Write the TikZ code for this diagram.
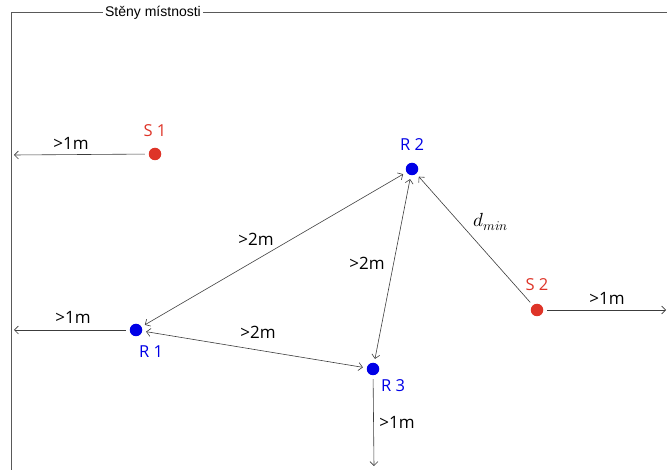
\documentclass[tikz,border=0pt]{standalone}
\usepackage{fontspec}
\usepackage{unicode-math}
\setmathfont{Latin Modern Math}
\setmainfont{Open Sans}
\newfontfamily\wallfont{Liberation Sans}
\usetikzlibrary{arrows.meta}
\definecolor{sred}{RGB}{222,52,40}
\definecolor{rblue}{RGB}{0,0,230}
\definecolor{lgray}{RGB}{60,60,60}
\begin{document}
\begin{tikzpicture}[x=1pt,y=-1pt,
  dotS/.style={circle,fill=sred,inner sep=0pt,minimum size=12.5pt,outer sep=4pt},
  dotR/.style={circle,fill=rblue,inner sep=0pt,minimum size=12.5pt,outer sep=4pt},
  slab/.style={text=sred,font=\fontsize{16.5}{16.5}\selectfont},
  rlab/.style={text=rblue,font=\fontsize{16.5}{16.5}\selectfont},
  dlab/.style={text=black,font=\fontsize{17}{17}\selectfont},
  mlab/.style={text=black,font=\fontsize{19}{19}\selectfont},
  conn/.style={draw=lgray,line width=0.6pt},
  onetip/.style={conn,-{Straight Barb[length=4pt,width=8pt]}},
  twotip/.style={conn,{Straight Barb[length=4pt,width=8pt]}-{Straight Barb[length=4pt,width=8pt]}},
  wall/.style={draw=black!65,line width=0.9pt}]
\useasboundingbox (0,0) rectangle (667,470);
% walls
\node[font=\wallfont\fontsize{14}{14}\selectfont,inner sep=2pt] (wl) at (153,13) {Stěny místnosti};
\coordinate (wtl) at (11,12);
\coordinate (wbl) at (11,470);
\coordinate (wtr) at (667,12);
\draw[wall] (wbl) -- (wtl) -- (wtl -| wl.west);
\draw[wall] (wl.east |- wtr) -- (wtr);
% points
\node[dotS] (s1) at (155,154) {};
\node[slab] (s1l) at (155,131) {S 1};
\node[dotS] (s2) at (537,310) {};
\node[slab] (s2l) at (537,285) {S 2};
\node[dotR] (r1) at (136,330) {};
\node[rlab] (r1l) at (151,352) {R 1};
\node[dotR] (r2) at (412,169) {};
\node[rlab] (r2l) at (412,145) {R 2};
\node[dotR] (r3) at (373,369) {};
\node[rlab] (r3l) at (393,386) {R 3};
% free ends
\coordinate (e1) at (14,155);
\coordinate (e2) at (14,330);
\coordinate (e3) at (666,310);
\coordinate (e4) at (374,466);
% connectors
\draw[onetip] (s1) -- (e1);
\draw[onetip] (r1) -- (e2);
\draw[onetip] (s2) -- (e3);
\draw[onetip] (r3) -- (e4);
\draw[twotip] (r1) -- (r2);
\draw[twotip] (r1) -- (r3);
\draw[twotip] (r2) -- (r3);
\draw[onetip] (s2) -- (r2);
% labels
\node[dlab] (l1) at (71,143) {>1m};
\node[dlab] (l2) at (73,317) {>1m};
\node[dlab] (l3) at (607,298) {>1m};
\node[dlab] (l4) at (397,422) {>1m};
\node[dlab] (l5) at (256,239) {>2m};
\node[dlab] (l6) at (258,332) {>2m};
\node[dlab] (l7) at (367,263) {>2m};
\node[mlab] (l8) at (491,222) {$d_{min}$};
\end{tikzpicture}
\end{document}
